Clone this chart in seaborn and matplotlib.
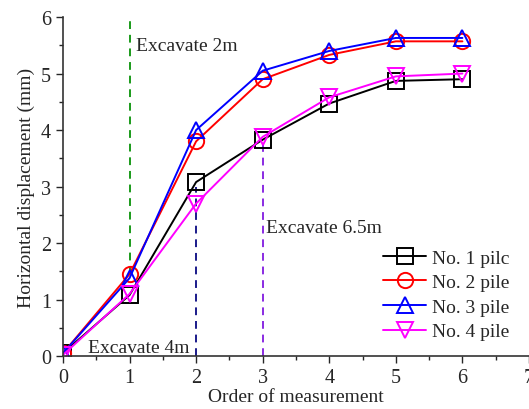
import numpy as np
import pandas as pd
import matplotlib
matplotlib.use("Agg")
import matplotlib.pyplot as plt
import seaborn as sns
from matplotlib.ticker import MultipleLocator

order = [0, 1, 2, 3, 4, 5, 6]
pile1 = [0.05, 1.08, 3.08, 3.83, 4.47, 4.87, 4.90]
pile2 = [0.05, 1.45, 3.80, 4.90, 5.33, 5.57, 5.57]
pile3 = [0.05, 1.38, 4.00, 5.05, 5.40, 5.63, 5.63]
pile4 = [0.02, 1.10, 2.70, 3.88, 4.58, 4.95, 5.00]
labels = ["No. 1 pilc", "No. 2 pile", "No. 3 pile", "No. 4 pile"]

sns.set_style("ticks")
plt.rcParams['font.family'] = ['Liberation Serif', 'DejaVu Serif']
plt.rcParams['font.size'] = 14

fig = plt.figure(figsize=(5.29, 4.10), dpi=100)
ax = fig.add_axes([0.119, 0.129, 0.881, 0.827])

# excavation stage markers
ax.plot([1, 1], [1.45, 6], color="#1a9a1a", ls=(0, (4, 3)), lw=1.4)
ax.plot([2, 2], [0, 3.0], color="#1a1a8a", ls=(0, (4, 3)), lw=1.4)
ax.plot([3, 3], [0, 3.8], color="#8a2be2", ls=(0, (4, 3)), lw=1.4)

series = [pile1, pile2, pile3, pile4]
colors = ["black", "red", "blue", "magenta"]
markers = ["s", "o", "^", "v"]
for vals, c, m, lab in zip(series, colors, markers, labels):
    sns.lineplot(x=order, y=vals, ax=ax, color=c, marker=m, markersize=11,
                 markerfacecolor="none", markeredgecolor=c, markeredgewidth=1.4,
                 lw=1.4, label=lab)

ax.text(1.1, 5.5, "Excavate 2m", fontsize=14, va="center")
ax.text(3.05, 2.28, "Excavate 6.5m", fontsize=14, va="center")
ax.text(0.38, 0.16, "Excavate 4m", fontsize=14, va="center")

ax.set_xlim(0, 7)
ax.set_ylim(0, 6)
ax.xaxis.set_major_locator(MultipleLocator(1))
ax.xaxis.set_minor_locator(MultipleLocator(0.5))
ax.yaxis.set_major_locator(MultipleLocator(1))
ax.yaxis.set_minor_locator(MultipleLocator(0.5))
ax.tick_params(which="major", direction="out", length=5, width=1, labelsize=14.5)
ax.tick_params(which="minor", direction="out", length=3, width=1)
for s in ["top", "right"]:
    ax.spines[s].set_visible(False)
for s in ["left", "bottom"]:
    ax.spines[s].set_linewidth(1.2)
    ax.spines[s].set_color("#333333")

ax.set_xlabel("Order of measurement", fontsize=14, labelpad=1)
ax.set_ylabel("Horizontal displacement (mm)", fontsize=14, labelpad=4)

ax.legend(loc="lower right", bbox_to_anchor=(0.983, 0.012), frameon=False,
          fontsize=14, handlelength=2.2, handletextpad=0.3, labelspacing=0.36,
          borderaxespad=0.2)

fig.savefig("out.png", dpi=100)
